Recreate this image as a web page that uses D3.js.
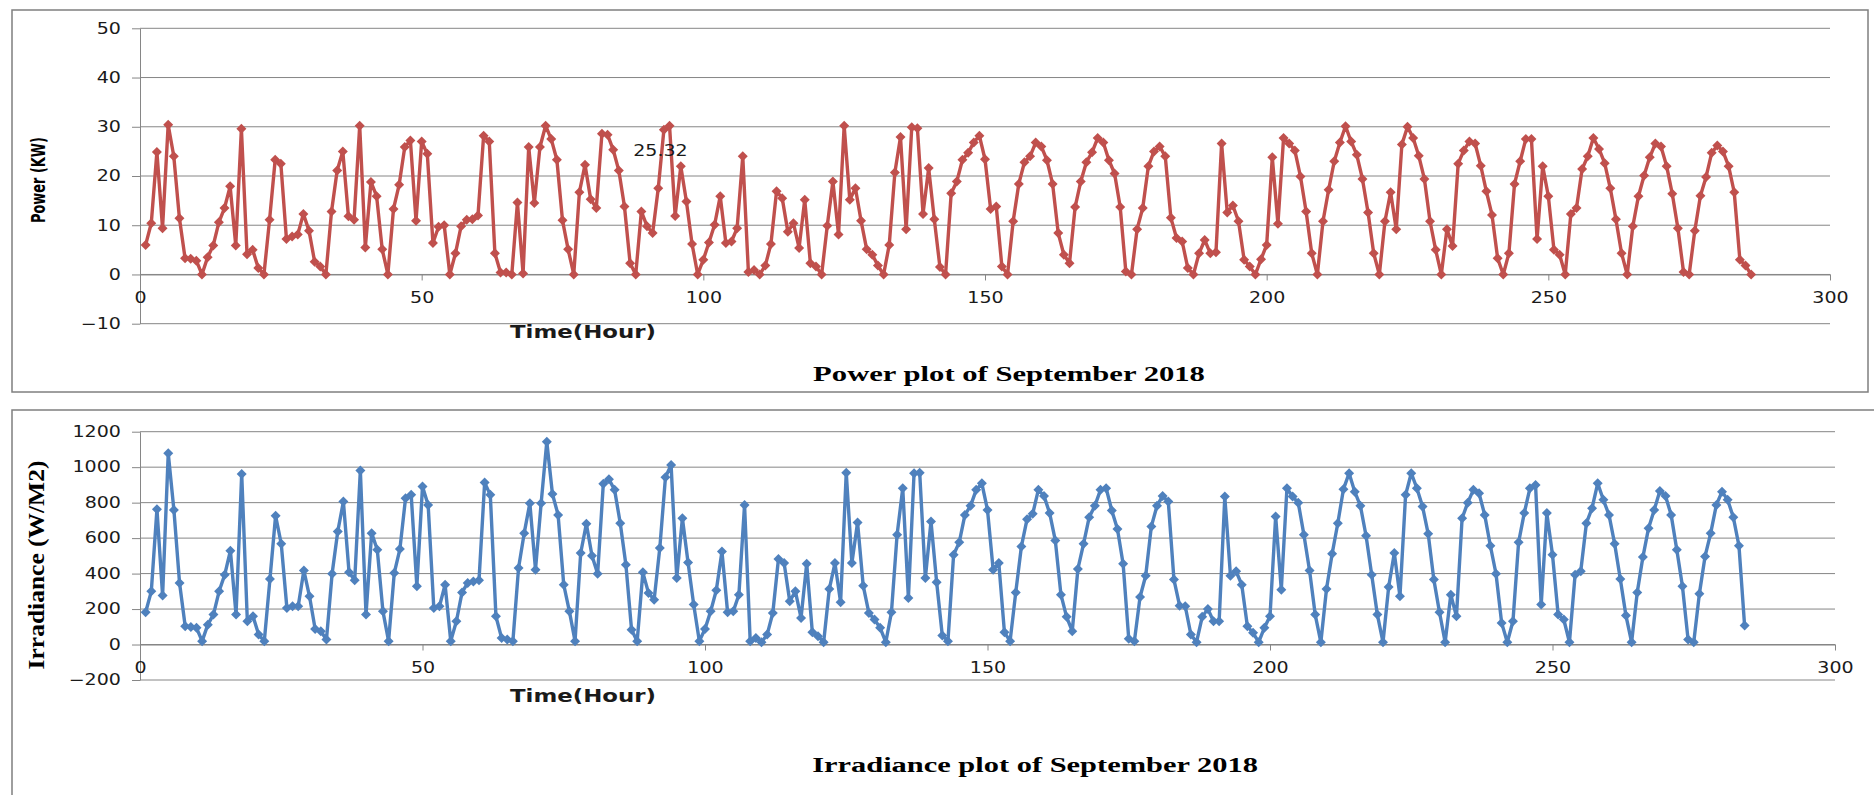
<!DOCTYPE html>
<html>
<head>
<meta charset="utf-8">
<script src="https://cdn.jsdelivr.net/npm/d3@7"></script>
<style>
  body { margin: 0; background: #fff; }
  svg { display: block; }
</style>
</head>
<body>
<svg id="chart" width="1874" height="795"></svg>
<script>
// ---- data -------------------------------------------------------------
const hourTicks = [0, 50, 100, 150, 200, 250, 300];
const powerTicks = [-10, 0, 10, 20, 30, 40, 50];
const irradianceTicks = [-200, 0, 200, 400, 600, 800, 1000, 1200];

// hourly PV power (kW), 11 daylight hours per day
const powerKW = [
  6.0, 10.4, 24.9, 9.4, 30.4, 24.0, 11.4, 3.3, 3.2, 2.8, 0,
  3.5, 5.9, 10.6, 13.5, 17.9, 5.9, 29.6, 4.1, 5.0, 1.3, 0,
  11.1, 23.3, 22.5, 7.2, 7.7, 8.1, 12.3, 8.9, 2.6, 1.6, 0,
  12.8, 21.1, 25.0, 11.8, 11.1, 30.2, 5.5, 18.8, 15.9, 5.1, 0,
  13.3, 18.2, 25.9, 27.2, 10.9, 27.0, 24.5, 6.4, 9.7, 10.0, 0,
  4.3, 9.8, 11.1, 11.2, 12.0, 28.2, 27.0, 4.3, 0.4, 0.4, 0,
  14.6, 0.2, 25.9, 14.5, 25.9, 30.2, 27.5, 23.3, 11.0, 5.1, 0,
  16.7, 22.3, 15.3, 13.5, 28.6, 28.4, 25.32, 21.1, 13.8, 2.3, 0,
  12.8, 9.8, 8.4, 17.5, 29.4, 30.2, 11.9, 22.0, 14.8, 6.2, 0,
  3.0, 6.5, 10.1, 15.9, 6.4, 6.7, 9.4, 24.0, 0.5, 0.9, 0,
  1.8, 6.2, 16.9, 15.5, 8.7, 10.4, 5.4, 15.2, 2.3, 1.6, 0,
  9.9, 18.9, 8.1, 30.2, 15.2, 17.5, 10.9, 5.1, 4.0, 1.8, 0,
  6.0, 20.7, 27.9, 9.2, 29.9, 29.7, 12.3, 21.6, 11.2, 1.5, 0,
  16.5, 18.9, 23.3, 24.7, 26.8, 28.2, 23.4, 13.3, 13.8, 1.6, 0,
  10.8, 18.4, 22.8, 24.0, 26.8, 26.0, 23.2, 18.4, 8.4, 4.0, 2.3,
  13.7, 18.9, 22.8, 24.8, 27.7, 26.8, 23.2, 20.5, 13.7, 0.6, 0,
  9.2, 13.5, 22.0, 25.0, 26.0, 24.0, 11.5, 7.4, 6.7, 1.3, 0,
  4.3, 7.0, 4.3, 4.5, 26.6, 12.6, 14.0, 10.8, 3.0, 1.6, 0,
  3.1, 6.0, 23.8, 10.3, 27.7, 26.6, 25.2, 19.9, 12.8, 4.3, 0,
  10.8, 17.2, 23.0, 26.8, 30.1, 27.0, 24.3, 19.4, 12.6, 4.3, 0,
  10.8, 16.7, 9.2, 26.4, 30.0, 27.7, 24.1, 19.4, 10.8, 5.0, 0,
  9.2, 5.8, 22.5, 25.2, 27.0, 26.6, 22.1, 16.9, 12.1, 3.3, 0,
  4.3, 18.4, 23.0, 27.5, 27.5, 7.2, 22.0, 15.9, 5.0, 4.0, 0,
  12.3, 13.5, 21.4, 24.0, 27.7, 25.5, 22.6, 17.5, 11.2, 4.3, 0,
  9.8, 15.9, 20.1, 23.8, 26.6, 26.0, 22.0, 16.4, 9.4, 0.5, 0,
  8.9, 16.0, 19.8, 24.7, 26.2, 25.0, 22.0, 16.7, 3.0, 1.8, 0
];

// hourly solar irradiance (W/m2)
const irradiance = [
  182, 300, 763, 276, 1078, 759, 347, 103, 99, 94, 19,
  112, 169, 300, 394, 529, 169, 962, 131, 159, 56, 19,
  369, 726, 568, 206, 216, 216, 418, 272, 88, 75, 28,
  399, 637, 806, 407, 362, 981, 169, 628, 534, 187, 19,
  403, 538, 825, 844, 328, 891, 787, 206, 216, 337, 19,
  131, 294, 347, 356, 362, 913, 844, 159, 37, 28, 19,
  431, 628, 797, 422, 797, 1144, 849, 731, 337, 187, 19,
  516, 681, 501, 399, 906, 932, 872, 684, 450, 84, 19,
  407, 291, 253, 544, 943, 1012, 375, 712, 463, 225, 19,
  88, 187, 306, 525, 182, 187, 281, 787, 19, 37, 13,
  56, 178, 482, 459, 244, 300, 150, 456, 69, 47, 13,
  313, 459, 238, 969, 459, 688, 332, 178, 141, 94, 13,
  182, 619, 881, 263, 966, 969, 375, 694, 351, 51, 19,
  506, 576, 731, 782, 872, 909, 759, 422, 459, 69, 19,
  294, 553, 707, 737, 872, 838, 741, 587, 281, 156, 75,
  426, 568, 718, 782, 872, 881, 756, 651, 456, 32, 19,
  268, 388, 666, 782, 838, 806, 366, 219, 216, 56, 13,
  156, 201, 131, 131, 834, 388, 413, 337, 103, 66, 13,
  94, 159, 722, 309, 881, 834, 800, 619, 418, 169, 13,
  313, 512, 684, 876, 966, 862, 782, 613, 394, 169, 13,
  324, 516, 272, 844, 966, 881, 778, 624, 366, 182, 13,
  281, 159, 712, 800, 872, 853, 731, 557, 399, 122, 13,
  131, 576, 741, 881, 900, 225, 741, 506, 169, 141, 13,
  394, 413, 684, 769, 909, 816, 731, 568, 369, 163, 13,
  294, 493, 656, 759, 866, 838, 731, 534, 328, 28, 13,
  287, 497, 628, 787, 862, 816, 718, 557, 107
];

// the one point that carries a value label in the power plot
const labelledHour = 84;

// ---- drawing ----------------------------------------------------------
const svg = d3.select('#chart');
const WIDE = 1.27;          // horizontal stretch of the lettering
const GRID = '#868686';

function diamond(r) {
  return `M0,${-r}L${r},0L0,${r}L${-r},0Z`;
}

// place a text so that its run is exactly `len` pixels long
function fitText(sel, cx, cy, len, angle) {
  const natural = sel.node().getComputedTextLength();
  const k = len / natural;
  sel.attr('x', 0).attr('y', 0)
    .attr('transform', `translate(${cx},${cy}) rotate(${angle}) scale(${k},1)`);
}

function drawPanel(o) {
  const g = svg.append('g');

  g.append('rect')
    .attr('x', o.box[0]).attr('y', o.box[1])
    .attr('width', o.box[2]).attr('height', o.box[3])
    .attr('fill', '#fff').attr('stroke', '#7f7f7f').attr('stroke-width', 1.5);

  const x = d3.scaleLinear().domain([0, 300]).range(o.xRange);
  const y = d3.scaleLinear().domain(o.yDomain).range(o.yRange);

  // horizontal gridlines
  g.append('g').selectAll('line').data(o.yTicks).join('line')
    .attr('x1', o.xRange[0]).attr('x2', o.xRange[1])
    .attr('y1', d => y(d)).attr('y2', d => y(d))
    .attr('stroke', GRID).attr('stroke-width', 1);

  // value axis
  const yAxis = g.append('g')
    .attr('transform', `translate(${o.xRange[0]},0)`)
    .call(d3.axisLeft(y).tickValues(o.yTicks).tickFormat(d3.format('d'))
      .tickSize(8).tickPadding(7).tickSizeOuter(0));
  yAxis.select('.domain').attr('stroke', GRID);
  yAxis.selectAll('.tick line').attr('stroke', GRID);
  yAxis.selectAll('.tick text')
    .attr('font-family', 'DejaVu Sans, Verdana, sans-serif')
    .attr('font-size', 15).attr('fill', '#1a1a1a')
    .attr('transform', `scale(${WIDE},1)`);

  // time axis, crossing at zero
  const xAxis = g.append('g')
    .attr('transform', `translate(0,${y(0)})`)
    .call(d3.axisBottom(x).tickValues(hourTicks).tickFormat(d3.format('d'))
      .tickSize(6).tickPadding(12).tickSizeOuter(0));
  xAxis.select('.domain').attr('stroke', GRID);
  xAxis.selectAll('.tick line').attr('stroke', GRID);
  xAxis.selectAll('.tick text')
    .attr('font-family', 'DejaVu Sans, Verdana, sans-serif')
    .attr('font-size', 15).attr('fill', '#1a1a1a')
    .attr('transform', `scale(${WIDE},1)`);

  // series
  const hours = d3.range(1, o.values.length + 1);
  const pts = hours.map((h, i) => [h, o.values[i]]);
  const line = d3.line().x(d => x(d[0])).y(d => y(d[1]));
  g.append('path').datum(pts)
    .attr('d', line).attr('fill', 'none')
    .attr('stroke', o.color).attr('stroke-width', 3.4)
    .attr('stroke-linejoin', 'round');
  g.append('g').selectAll('path').data(pts).join('path')
    .attr('transform', d => `translate(${x(d[0])},${y(d[1])})`)
    .attr('d', diamond(5)).attr('fill', o.color);

  // axis titles and panel title
  g.append('text')
    .attr('transform', `translate(${o.xTitle[0]},${o.xTitle[1]}) scale(${WIDE},1)`)
    .attr('text-anchor', 'middle')
    .attr('font-family', 'DejaVu Sans, Verdana, sans-serif')
    .attr('font-weight', 'bold').attr('font-size', 18).attr('fill', '#1a1a1a')
    .text('Time(Hour)');

  const yTitle = g.append('text')
    .attr('text-anchor', 'middle')
    .attr('font-family', o.yTitleFont)
    .attr('font-weight', 'bold').attr('font-size', o.yTitleSize).attr('fill', '#000')
    .text(o.yTitleText);
  fitText(yTitle, o.yTitle[0], o.yTitle[1], o.yTitleLen, -90);

  const title = g.append('text')
    .attr('text-anchor', 'middle')
    .attr('font-family', 'Liberation Serif, Times New Roman, serif')
    .attr('font-weight', 'bold').attr('font-size', 21).attr('fill', '#000')
    .text(o.titleText);
  fitText(title, o.title[0], o.title[1], o.titleLen, 0);

  return { g, x, y };
}

const power = drawPanel({
  box: [12, 10, 1856, 382],
  xRange: [140, 1830], yRange: [323.7, 28.3], yDomain: [-10, 50],
  yTicks: powerTicks, values: powerKW, color: '#C0504D',
  xTitle: [583, 338],
  yTitle: [45, 180], yTitleText: 'Power (KW)', yTitleSize: 19, yTitleLen: 86,
  yTitleFont: 'Liberation Sans Narrow, DejaVu Sans Condensed, Arial Narrow, sans-serif',
  title: [1009, 381], titleText: 'Power plot of September 2018', titleLen: 392
});

drawPanel({
  box: [12, 410, 1880, 400],
  xRange: [140, 1835], yRange: [680, 431.7], yDomain: [-200, 1200],
  yTicks: irradianceTicks, values: irradiance, color: '#4F81BD',
  xTitle: [583, 702],
  yTitle: [44, 565], yTitleText: 'Irradiance (W/M2)', yTitleSize: 23, yTitleLen: 209,
  yTitleFont: 'Liberation Serif, Times New Roman, serif',
  title: [1035, 772], titleText: 'Irradiance plot of September 2018', titleLen: 446
});

// value label beside the marked power point
const lv = powerKW[labelledHour - 1];
power.g.append('text')
  .attr('transform', `translate(${power.x(labelledHour) + 20},${power.y(lv) + 6}) scale(${WIDE},1)`)
  .attr('font-family', 'DejaVu Sans, Verdana, sans-serif')
  .attr('font-size', 15).attr('fill', '#1a1a1a')
  .text(lv.toFixed(2));
</script>
</body>
</html>
